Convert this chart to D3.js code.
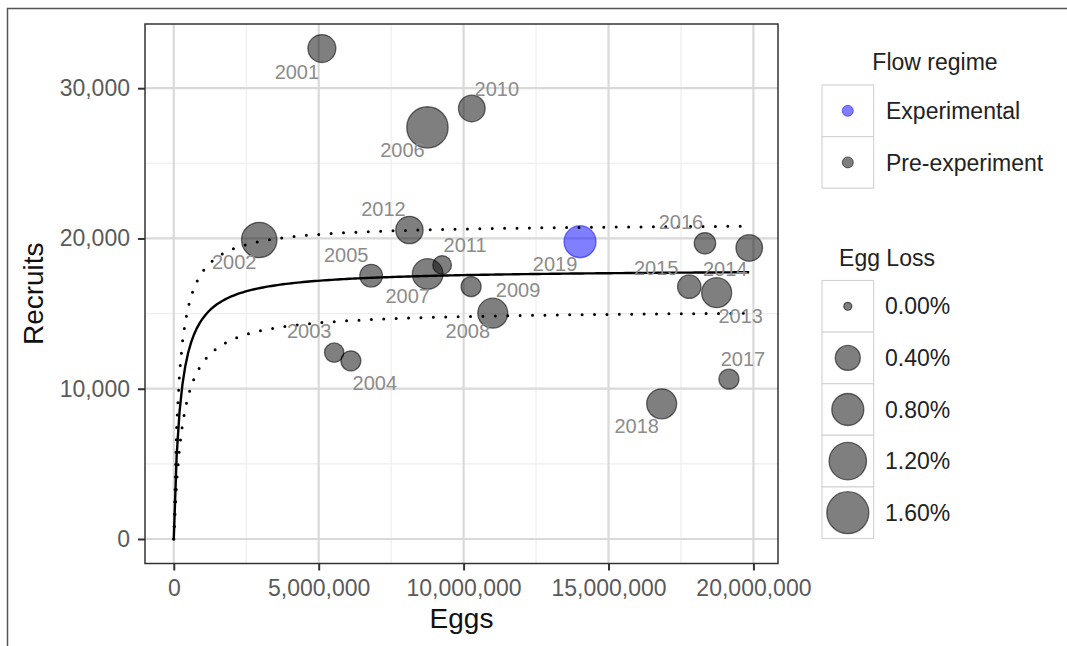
<!DOCTYPE html>
<html>
<head>
<meta charset="utf-8">
<script src="https://cdn.jsdelivr.net/npm/d3@7"></script>
<style>
  body { margin: 0; background: #fff; }
  svg { display: block; }
  text { font-family: "Liberation Sans", Arial, Helvetica, sans-serif; }
</style>
</head>
<body>
<svg id="chart" width="1067" height="646"></svg>
<script>
// ---- data ----
const years = [2001, 2002, 2003, 2004, 2005, 2006, 2007, 2008, 2009, 2010,
               2011, 2012, 2013, 2014, 2015, 2016, 2017, 2018, 2019];
const eggs = [5110000, 2948000, 5534000, 6110000, 6810000, 8752000, 8760000, 11007000, 10259000, 10283000,
              9259000, 8131000, 18731000, 19855000, 17786000, 18328000, 19155000, 16834000, 14017000];
const recruits = [32640, 19896, 12405, 11853, 17523, 27388, 17636, 15024, 16792, 28651,
                  18234, 20561, 16393, 19365, 16792, 19677, 10636, 8994, 19783];
const eggLoss = [0.55, 1.04, 0.18, 0.20, 0.30, 1.54, 0.71, 0.67, 0.20, 0.48,
                 0.16, 0.52, 0.67, 0.48, 0.33, 0.25, 0.20, 0.67, 0.80];
const flowRegime = ["Pre-experiment", "Pre-experiment", "Pre-experiment", "Pre-experiment", "Pre-experiment",
                    "Pre-experiment", "Pre-experiment", "Pre-experiment", "Pre-experiment", "Pre-experiment",
                    "Pre-experiment", "Pre-experiment", "Pre-experiment", "Pre-experiment", "Pre-experiment",
                    "Pre-experiment", "Pre-experiment", "Pre-experiment", "Experimental"];
const flowLevels = ["Experimental", "Pre-experiment"];
const eggLossBreaks = [0, 0.4, 0.8, 1.2, 1.6];
const xTicks = [0, 5000000, 10000000, 15000000, 20000000];
const yTicks = [0, 10000, 20000, 30000];
const xMinor = [2500000, 7500000, 12500000, 17500000];
const yMinor = [5000, 15000, 25000];

// Beverton-Holt stock-recruitment fit and its bounds: R = rmax * E / (half + E)
const curveNames = ["fit", "upper", "lower"];
const curveRmax = [17950, 21000, 15245];
const curveHalf = [222600, 180000, 300000];

// ---- layout ----
const svg = d3.select("#chart");
const panel = { left: 145, right: 778, top: 24, bottom: 563.5 };
const fontStack = '"Liberation Sans", Arial, Helvetica, sans-serif';

// year label offsets from their points (px)
const labelOffset = {
  2001: [-25, 23], 2002: [-25, 22], 2003: [-25, -22], 2004: [24, 22], 2005: [-25, -21],
  2006: [-25, 22], 2007: [-20, 22], 2008: [-25, 18], 2009: [47, 3], 2010: [25, -20],
  2011: [23, -20], 2012: [-26, -21], 2013: [24, 23], 2014: [-24, 21], 2015: [-33, -19],
  2016: [-24, -21], 2017: [14, -20], 2018: [-25, 22], 2019: [-25, 22]
};

const points = years.map((y, i) => ({
  year: y, eggs: eggs[i], recruits: recruits[i], loss: eggLoss[i], flow: flowRegime[i]
}));

// scales with 5% padding, like the default continuous expansion
const xMax = d3.max(eggs), xMin = 0;
const xPad = (xMax - xMin) * 0.05;
const x = d3.scaleLinear().domain([xMin - xPad, xMax + xPad]).range([panel.left, panel.right]);
const yMax = d3.max(recruits), yMin = 0;
const yPad = (yMax - yMin) * 0.05;
const y = d3.scaleLinear().domain([yMin - yPad, yMax + yPad]).range([panel.bottom, panel.top]);
const r = d3.scaleSqrt().domain([0, 1.6]).range([4, 21]);
const fillColor = d3.scaleOrdinal().domain(flowLevels).range(["rgba(0,0,255,0.5)", "rgba(0,0,0,0.5)"]);
const strokeColor = d3.scaleOrdinal().domain(flowLevels).range(["rgba(0,0,255,0.5)", "rgba(0,0,0,0.55)"]);

// outer frame
svg.append("path").attr("d", "M7.5,646 V8.5 H1067").attr("fill", "none")
  .attr("stroke", "#555").attr("stroke-width", 1.5);

// panel background and grid
const W = panel.right - panel.left, H = panel.bottom - panel.top;
svg.append("rect").attr("x", panel.left).attr("y", panel.top).attr("width", W).attr("height", H).attr("fill", "#fff");

const grid = svg.append("g");
grid.selectAll(".xminor").data(xMinor).join("line")
  .attr("x1", d => x(d)).attr("x2", d => x(d)).attr("y1", panel.top).attr("y2", panel.bottom)
  .attr("stroke", "#eeeeee").attr("stroke-width", 1.2);
grid.selectAll(".yminor").data(yMinor).join("line")
  .attr("y1", d => y(d)).attr("y2", d => y(d)).attr("x1", panel.left).attr("x2", panel.right)
  .attr("stroke", "#eeeeee").attr("stroke-width", 1.2);
grid.selectAll(".xmajor").data(xTicks).join("line")
  .attr("x1", d => x(d)).attr("x2", d => x(d)).attr("y1", panel.top).attr("y2", panel.bottom)
  .attr("stroke", "#d9d9d9").attr("stroke-width", 2.2);
grid.selectAll(".ymajor").data(yTicks).join("line")
  .attr("y1", d => y(d)).attr("y2", d => y(d)).attr("x1", panel.left).attr("x2", panel.right)
  .attr("stroke", "#d9d9d9").attr("stroke-width", 2.2);

// points
svg.append("g").selectAll("circle").data(points).join("circle")
  .attr("cx", d => x(d.eggs)).attr("cy", d => y(d.recruits)).attr("r", d => r(d.loss))
  .attr("fill", d => fillColor(d.flow)).attr("stroke", d => strokeColor(d.flow)).attr("stroke-width", 1.3);

// stock-recruitment curves
const curveX = d3.range(0, 201).map(i => xMax * i / 200);
const line = d3.line().x(d => x(d[0])).y(d => y(d[1]));
curveNames.forEach((name, k) => {
  const pts = curveX.map(e => [e, curveRmax[k] * e / (curveHalf[k] + e)]);
  const p = svg.append("path").datum(pts).attr("d", line).attr("fill", "none").attr("stroke", "#000");
  if (name === "fit") {
    p.attr("stroke-width", 2.4);
  } else {
    p.attr("stroke-width", 3).attr("stroke-linecap", "round").attr("stroke-dasharray", "0 12.4");
  }
});

// year labels
svg.append("g").selectAll("text").data(points).join("text")
  .attr("x", d => x(d.eggs) + labelOffset[d.year][0])
  .attr("y", d => y(d.recruits) + labelOffset[d.year][1])
  .attr("dy", "0.355em").attr("text-anchor", "middle")
  .attr("font-size", 20).attr("fill", "#8c8c8c").text(d => d.year);

// panel border
svg.append("rect").attr("x", panel.left).attr("y", panel.top).attr("width", W).attr("height", H)
  .attr("fill", "none").attr("stroke", "#333").attr("stroke-width", 1.5);

// axes
const fmt = d3.format(",");
const xAxis = svg.append("g").attr("transform", `translate(0,${panel.bottom})`)
  .call(d3.axisBottom(x).tickValues(xTicks).tickFormat(fmt).tickSize(7).tickPadding(5));
const yAxis = svg.append("g").attr("transform", `translate(${panel.left},0)`)
  .call(d3.axisLeft(y).tickValues(yTicks).tickFormat(fmt).tickSize(7).tickPadding(8));
[xAxis, yAxis].forEach(g => {
  g.select(".domain").remove();
  g.selectAll(".tick line").attr("stroke", "#333").attr("stroke-width", 2);
  g.selectAll(".tick text").attr("font-size", 23).attr("fill", "#5a5a5a").attr("font-family", fontStack);
});
xAxis.selectAll(".tick text").attr("dy", "0.9em");

// axis titles
svg.append("text").attr("x", (panel.left + panel.right) / 2).attr("y", 628)
  .attr("text-anchor", "middle").attr("font-size", 28).attr("fill", "#111").text("Eggs");
svg.append("text").attr("transform", `translate(43,${(panel.top + panel.bottom) / 2}) rotate(-90)`)
  .attr("text-anchor", "middle").attr("font-size", 28).attr("fill", "#111").text("Recruits");

// legends
const keyX = 822, keySize = 51.6;
const flowLegend = svg.append("g");
flowLegend.append("text").attr("x", 935).attr("y", 62).attr("dy", "0.355em").attr("text-anchor", "middle")
  .attr("font-size", 23).attr("fill", "#222").text("Flow regime");
flowLevels.forEach((lvl, i) => {
  const ky = 85 + i * keySize;
  flowLegend.append("rect").attr("x", keyX).attr("y", ky).attr("width", keySize).attr("height", keySize)
    .attr("fill", "#fff").attr("stroke", "#d4d4d4").attr("stroke-width", 1.2);
  flowLegend.append("circle").attr("cx", keyX + keySize / 2).attr("cy", ky + keySize / 2).attr("r", 5.5)
    .attr("fill", fillColor(lvl)).attr("stroke", strokeColor(lvl)).attr("stroke-width", 1);
  flowLegend.append("text").attr("x", 886).attr("y", ky + keySize / 2).attr("dy", "0.355em")
    .attr("font-size", 23).attr("fill", "#222").text(lvl);
});

const sizeLegend = svg.append("g");
sizeLegend.append("text").attr("x", 887).attr("y", 258).attr("dy", "0.355em").attr("text-anchor", "middle")
  .attr("font-size", 23).attr("fill", "#222").text("Egg Loss");
const pct = d3.format(".2f");
eggLossBreaks.forEach((b, i) => {
  const ky = 280.5 + i * keySize;
  sizeLegend.append("rect").attr("x", keyX).attr("y", ky).attr("width", keySize).attr("height", keySize)
    .attr("fill", "#fff").attr("stroke", "#d4d4d4").attr("stroke-width", 1.2);
  sizeLegend.append("circle").attr("cx", keyX + keySize / 2).attr("cy", ky + keySize / 2).attr("r", r(b))
    .attr("fill", fillColor("Pre-experiment")).attr("stroke", strokeColor("Pre-experiment")).attr("stroke-width", 1.3);
  sizeLegend.append("text").attr("x", 885).attr("y", ky + keySize / 2).attr("dy", "0.355em")
    .attr("font-size", 23).attr("fill", "#222").text(pct(b) + "%");
});
</script>
</body>
</html>
